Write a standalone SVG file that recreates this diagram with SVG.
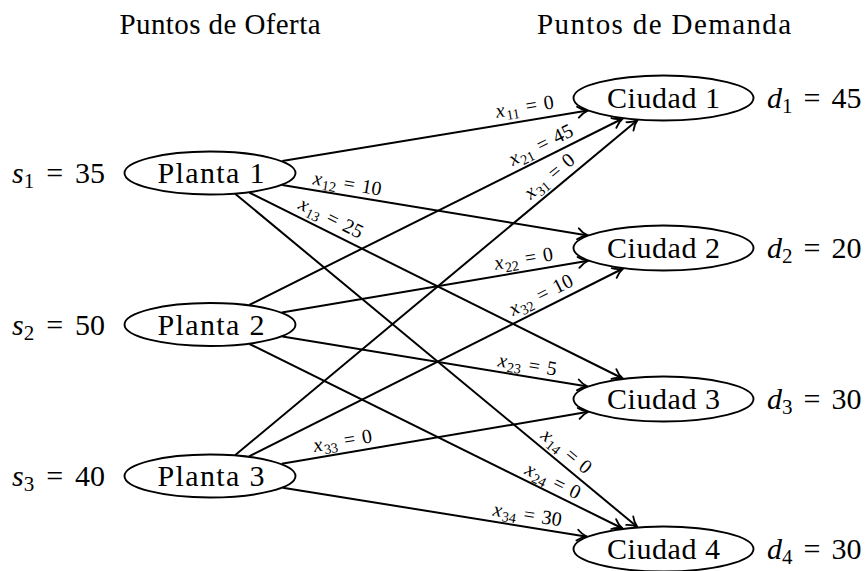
<svg xmlns="http://www.w3.org/2000/svg" width="865" height="571" viewBox="0 0 865 571">
<defs>
<style>
.node ellipse{fill:#fff;stroke:#000;stroke-width:1.9}
.ntxt{font-family:"Liberation Serif",serif;font-size:30px;text-anchor:middle;fill:#000}
.title{font-family:"Liberation Serif",serif;font-size:29px;text-anchor:middle;fill:#000}
.side{font-family:"Liberation Serif",serif;font-size:30px;fill:#000}
.side .it{font-style:italic}
.side .sub{font-size:21px}
.edges line{stroke:#000;stroke-width:2;fill:none;marker-end:url(#arr)}
.lbl{font-family:"Liberation Serif",serif;font-size:20px;text-anchor:middle;fill:#000}
.lbl .it{font-style:italic}
.lbl .sub{font-size:14px}
</style>
<marker id="arr" markerUnits="userSpaceOnUse" viewBox="-12 -7 14 14" refX="0" refY="0" markerWidth="14" markerHeight="14" orient="auto">
<path d="M-10,-5.5 C-7,-2.6 -3,-0.8 0,0 C-3,0.8 -7,2.6 -10,5.5" fill="none" stroke="#000" stroke-width="1.8" stroke-linecap="round"/>
</marker>
</defs>
<rect width="865" height="571" fill="#fff"/>

<text class="title" x="220" y="34" textLength="201">Puntos de Oferta</text>
<text class="title" x="664" y="34" textLength="254">Puntos de Demanda</text>

<g class="edges" id="connectors">
<line x1="282.2" y1="161.1" x2="587.8" y2="110.6"/>
<line x1="282.2" y1="184.9" x2="587.8" y2="235.4"/>
<line x1="249.3" y1="192.6" x2="622.8" y2="378.5"/>
<line x1="235.4" y1="194.0" x2="637.4" y2="527.0"/>
<line x1="249.3" y1="304.9" x2="622.8" y2="118.5"/>
<line x1="281.8" y1="312.4" x2="588.3" y2="260.8"/>
<line x1="282.4" y1="336.4" x2="587.7" y2="386.5"/>
<line x1="249.5" y1="344.0" x2="622.6" y2="528.5"/>
<line x1="235.3" y1="455.0" x2="637.6" y2="120.0"/>
<line x1="249.0" y1="456.4" x2="623.1" y2="268.5"/>
<line x1="281.7" y1="463.8" x2="588.5" y2="411.8"/>
<line x1="282.8" y1="487.7" x2="587.2" y2="536.7"/>
</g>

<g id="edge-labels">
<text class="lbl" transform="translate(525,109) rotate(-9.38)" y="4"><tspan class="it">x</tspan><tspan class="sub" dy="4" dx="1">11</tspan><tspan dy="-4" dx="7">=</tspan><tspan dx="7">0</tspan></text>
<text class="lbl" transform="translate(347,186) rotate(9.38)" y="4"><tspan class="it">x</tspan><tspan class="sub" dy="4" dx="1">12</tspan><tspan dy="-4" dx="7">=</tspan><tspan dx="7">10</tspan></text>
<text class="lbl" transform="translate(330,220) rotate(26.46)" y="4"><tspan class="it">x</tspan><tspan class="sub" dy="4" dx="1">13</tspan><tspan dy="-4" dx="7">=</tspan><tspan dx="7">25</tspan></text>
<text class="lbl" transform="translate(565,453) rotate(39.63)" y="4"><tspan class="it">x</tspan><tspan class="sub" dy="4" dx="1">14</tspan><tspan dy="-4" dx="7">=</tspan><tspan dx="7">0</tspan></text>
<text class="lbl" transform="translate(542,147) rotate(-26.5)" y="4"><tspan class="it">x</tspan><tspan class="sub" dy="4" dx="1">21</tspan><tspan dy="-4" dx="7">=</tspan><tspan dx="7">45</tspan></text>
<text class="lbl" transform="translate(524,261) rotate(-9.56)" y="4"><tspan class="it">x</tspan><tspan class="sub" dy="4" dx="1">22</tspan><tspan dy="-4" dx="7">=</tspan><tspan dx="7">0</tspan></text>
<text class="lbl" transform="translate(527,367) rotate(9.32)" y="4"><tspan class="it">x</tspan><tspan class="sub" dy="4" dx="1">23</tspan><tspan dy="-4" dx="7">=</tspan><tspan dx="7">5</tspan></text>
<text class="lbl" transform="translate(552,483) rotate(26.31)" y="4"><tspan class="it">x</tspan><tspan class="sub" dy="4" dx="1">24</tspan><tspan dy="-4" dx="7">=</tspan><tspan dx="7">0</tspan></text>
<text class="lbl" transform="translate(551,178) rotate(-39.8)" y="4"><tspan class="it">x</tspan><tspan class="sub" dy="4" dx="1">31</tspan><tspan dy="-4" dx="7">=</tspan><tspan dx="7">0</tspan></text>
<text class="lbl" transform="translate(542,297) rotate(-26.67)" y="4"><tspan class="it">x</tspan><tspan class="sub" dy="4" dx="1">32</tspan><tspan dy="-4" dx="7">=</tspan><tspan dx="7">10</tspan></text>
<text class="lbl" transform="translate(343,443) rotate(-9.62)" y="4"><tspan class="it">x</tspan><tspan class="sub" dy="4" dx="1">33</tspan><tspan dy="-4" dx="7">=</tspan><tspan dx="7">0</tspan></text>
<text class="lbl" transform="translate(527,517) rotate(9.14)" y="4"><tspan class="it">x</tspan><tspan class="sub" dy="4" dx="1">34</tspan><tspan dy="-4" dx="7">=</tspan><tspan dx="7">30</tspan></text>
</g>

<g id="planta1" class="node"><ellipse cx="210" cy="173" rx="85.5" ry="21.5"/><text class="ntxt" x="211" y="183" textLength="107">Planta 1</text></g>
<g id="planta2" class="node"><ellipse cx="210" cy="324.5" rx="85.5" ry="21.5"/><text class="ntxt" x="211" y="334.5" textLength="107">Planta 2</text></g>
<g id="planta3" class="node"><ellipse cx="210" cy="476" rx="85.5" ry="21.5"/><text class="ntxt" x="211" y="486" textLength="107">Planta 3</text></g>

<g id="ciudad1" class="node"><ellipse cx="663.5" cy="98" rx="90" ry="22.5"/><text class="ntxt" x="663.5" y="108" textLength="113">Ciudad 1</text></g>
<g id="ciudad2" class="node"><ellipse cx="663.5" cy="248" rx="90" ry="22.5"/><text class="ntxt" x="663.5" y="258" textLength="113">Ciudad 2</text></g>
<g id="ciudad3" class="node"><ellipse cx="663.5" cy="399" rx="90" ry="22.5"/><text class="ntxt" x="663.5" y="409" textLength="113">Ciudad 3</text></g>
<g id="ciudad4" class="node"><ellipse cx="663.5" cy="549" rx="90" ry="22.5"/><text class="ntxt" x="663.5" y="559" textLength="113">Ciudad 4</text></g>

<g id="supply-labels">
<text class="side" x="12" y="183"><tspan class="it">s</tspan><tspan class="sub" dy="5">1</tspan><tspan dy="-5" dx="12">=</tspan><tspan dx="12">35</tspan></text>
<text class="side" x="12" y="334.5"><tspan class="it">s</tspan><tspan class="sub" dy="5">2</tspan><tspan dy="-5" dx="12">=</tspan><tspan dx="12">50</tspan></text>
<text class="side" x="12" y="486"><tspan class="it">s</tspan><tspan class="sub" dy="5">3</tspan><tspan dy="-5" dx="12">=</tspan><tspan dx="12">40</tspan></text>
</g>
<g id="demand-labels">
<text class="side" x="767" y="108"><tspan class="it">d</tspan><tspan class="sub" dy="5">1</tspan><tspan dy="-5" dx="11">=</tspan><tspan dx="11">45</tspan></text>
<text class="side" x="767" y="258"><tspan class="it">d</tspan><tspan class="sub" dy="5">2</tspan><tspan dy="-5" dx="11">=</tspan><tspan dx="11">20</tspan></text>
<text class="side" x="767" y="409"><tspan class="it">d</tspan><tspan class="sub" dy="5">3</tspan><tspan dy="-5" dx="11">=</tspan><tspan dx="11">30</tspan></text>
<text class="side" x="767" y="559"><tspan class="it">d</tspan><tspan class="sub" dy="5">4</tspan><tspan dy="-5" dx="11">=</tspan><tspan dx="11">30</tspan></text>
</g>
</svg>
